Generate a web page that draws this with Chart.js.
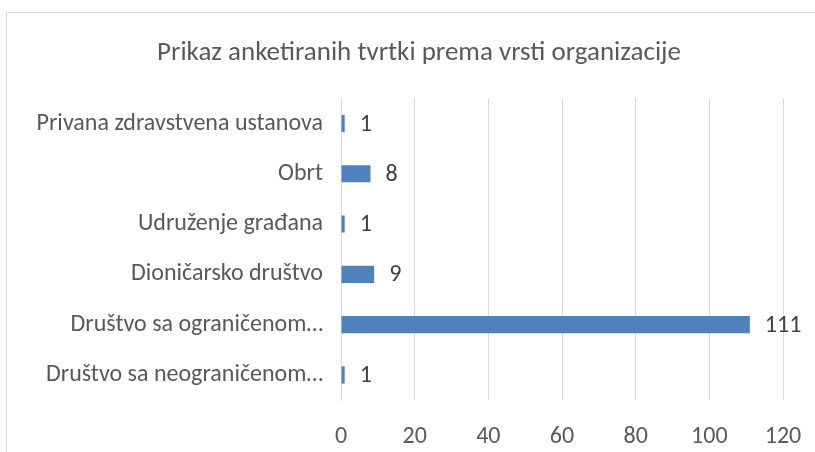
<!DOCTYPE html>
<html>
<head>
<meta charset="utf-8">
<script src="https://cdn.jsdelivr.net/npm/chart.js@4.4.0/dist/chart.umd.min.js"></script>
<style>
  html, body { margin: 0; padding: 0; background: #fff; overflow: hidden; width: 815px; height: 452px; }
  #wrap { position: absolute; left: 6px; top: 12px; width: 826px; height: 450px; border: 1px solid #d9d9d9; box-sizing: border-box; }
  canvas { display: block; }
</style>
</head>
<body>
<div id="wrap"><canvas id="c" width="824" height="448"></canvas></div>
<script>
const titleText = 'Prikaz anketiranih tvrtki prema vrsti organizacije';
const categories = [
  'Privana zdravstvena ustanova',
  'Obrt',
  'Udruženje građana',
  'Dioničarsko društvo',
  'Društvo sa ograničenom…',
  'Društvo sa neograničenom…'
];
const values = [1, 8, 1, 9, 111, 1];
const xTicks = [0, 20, 40, 60, 80, 100, 120];

const FONT = "Carlito, 'Open Sans', sans-serif";
const TEXT = '#595959';
const SIZE = 24;

const valueLabels = {
  id: 'valueLabels',
  afterDatasetsDraw(chart) {
    const ctx = chart.ctx;
    const meta = chart.getDatasetMeta(0);
    ctx.save();
    ctx.font = SIZE + 'px ' + FONT;
    ctx.fillStyle = '#404040';
    ctx.textAlign = 'left';
    ctx.textBaseline = 'middle';
    meta.data.forEach((bar, i) => {
      ctx.fillText(String(values[i]), bar.x + 15, bar.y + 1);
    });
    ctx.restore();
  }
};

new Chart(document.getElementById('c'), {
  type: 'bar',
  data: {
    labels: categories,
    datasets: [{
      data: values,
      backgroundColor: '#4f81bd',
      borderWidth: 0,
      categoryPercentage: 1,
      barPercentage: 0.34
    }]
  },
  plugins: [valueLabels],
  options: {
    indexAxis: 'y',
    responsive: false,
    animation: false,
    layout: { padding: { left: 0, right: 0, top: 0, bottom: 9 } },
    plugins: {
      legend: { display: false },
      tooltip: { enabled: false },
      title: {
        display: true,
        text: titleText,
        color: TEXT,
        font: { family: FONT, size: 27, weight: 'normal' },
        padding: { top: 24, bottom: 29 }
      }
    },
    scales: {
      x: {
        min: 0,
        max: 120,
        afterBuildTicks(scale) { scale.ticks = xTicks.map(v => ({ value: v })); },
        grid: { color: '#d9d9d9', lineWidth: 1, drawTicks: false },
        border: { display: false },
        ticks: { color: TEXT, font: { family: FONT, size: SIZE }, padding: 23 },
        afterFit(scale) { scale.height = 52; }
      },
      y: {
        grid: { display: false, drawTicks: false },
        border: { display: true, color: '#d9d9d9' },
        ticks: { color: TEXT, font: { family: FONT, size: SIZE }, padding: 18, autoSkip: false },
        afterFit(scale) { scale.width = 334; }
      },
      yRightSpace: {
        type: 'category',
        position: 'right',
        display: true,
        grid: { display: false, drawTicks: false },
        border: { display: false },
        ticks: { display: false },
        afterFit(scale) { scale.width = 48; }
      }
    }
  }
});
</script>
</body>
</html>
